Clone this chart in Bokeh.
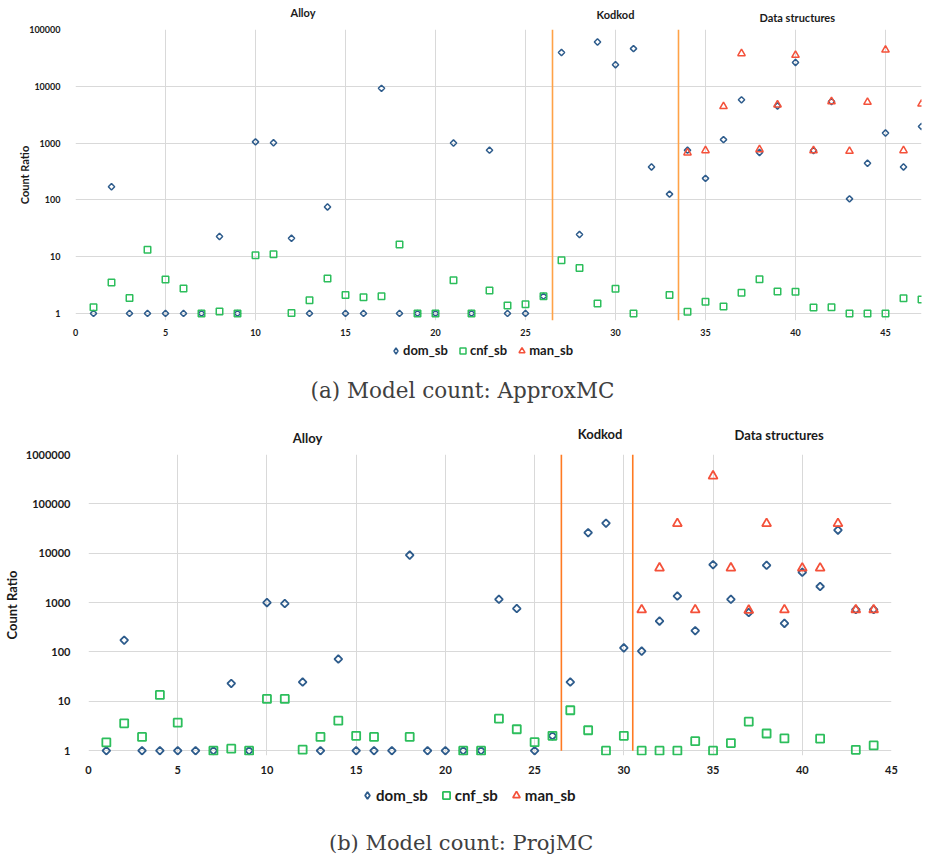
import math
from bokeh.plotting import figure
from bokeh.layouts import column
from bokeh.models import (FixedTicker, Legend, LegendItem, Label,
                          Range1d, NumeralTickFormatter)
from bokeh.embed import file_html
from bokeh.resources import INLINE

NaN = float("nan")

# ---------------- (a) Model count: ApproxMC ----------------
a_ids = list(range(1, 48))
a_dom = [1, 170, 1, 1, 1, 1, 1, 22.6, 1, 1050,
         1010, 21, 1, 75, 1, 1, 9200, 1, 1, 1,
         1000, 1, 750, 1, 1, 2, 39300, 24.5, 60300, 24000,
         46000, 380, 126, 750, 239, 1150, 5770, 684, 4500, 26300,
         740, 5390, 104, 441, 1500, 380, 1960]
a_cnf = [1.29, 3.5, 1.87, 13.2, 3.94, 2.75, 1, 1.08, 1, 10.6,
         11, 1.02, 1.7, 4.1, 2.1, 1.92, 2.0, 16.4, 1, 1,
         3.83, 1, 2.54, 1.38, 1.45, 2, 8.66, 6.3, 1.49, 2.72,
         1.0, NaN, 2.1, 1.07, 1.61, 1.32, 2.31, 3.99, 2.44, 2.4,
         1.27, 1.29, 1, 1, 1, 1.84, 1.75]
a_man_ids = list(range(34, 48))
a_man = [676, 740, 4430, 37700, 771, 4720, 35400, 740, 5390, 720,
         5260, 43800, 740, 4900]
a_groups = ["Alloy", "Kodkod", "Data structures"]
a_group_sizes = [26, 7, 14]
a_yticks = [1, 10, 100, 1000, 10000, 100000]
a_xticks = [0, 5, 10, 15, 20, 25, 30, 35, 40, 45]
a_caption = "(a) Model count: ApproxMC"

# ---------------- (b) Model count: ProjMC ----------------
b_ids = list(range(1, 45))
b_dom = [1, 173, 1, 1, 1, 1, 1, 23, 1, 1000,
         955, 24.6, 1, 72, 1, 1, 1, 9150, 1, 1,
         1, 1, 1165, 758, 1, 2, 24.6, 26100, 40600, 121,
         104, 422, 1360, 270, 5860, 1165, 630, 5690, 380, 4120,
         2120, 29400, 724, 724]
b_cnf = [1.47, 3.59, 1.9, 13.5, 3.7, NaN, 1, 1.1, 1, 11.2,
         11.2, 1.05, 1.9, 4.06, 2.0, 1.9, NaN, 1.9, NaN, NaN,
         1, 1, 4.46, 2.72, 1.49, 2, 6.6, 2.6, 1.0, 2.0,
         1, 1, 1, 1.56, 1, 1.43, 3.88, 2.23, 1.77, NaN,
         1.75, NaN, 1.04, 1.28]
b_man_ids = list(range(31, 45))
b_man = [714, 5020, 39900, 714, 367000, 5020, 700, 39900, 714, 5000,
         5000, 39900, 714, 714]
b_groups = ["Alloy", "Kodkod", "Data structures"]
b_group_sizes = [26, 4, 14]
b_yticks = [1, 10, 100, 1000, 10000, 100000, 1000000]
b_xticks = [0, 5, 10, 15, 20, 25, 30, 35, 40, 45]
b_caption = "(b) Model count: ProjMC"

series_names = ["dom_sb", "cnf_sb", "man_sb"]

DOM = "#2E5C8C"
CNF = "#2DBE5C"
MAN = "#F4513A"
FONT = "Lato"
GRID = "#D9D9D9"
TXT = "#1a1a1a"
W = 927


def add_series(p, x, y, kind, c, legend_only=False):
    if kind == 0:
        if legend_only:
            return p.scatter(x, y, marker="diamond", size=c["dsize"],
                             fill_color=None, line_color=DOM,
                             line_width=c["lw"])
        return p.scatter(x, y, marker="square", angle=math.pi / 4,
                         size=c["dsize"], fill_color=None, line_color=DOM,
                         line_width=c["lw"])
    if kind == 1:
        return p.scatter(x, y, marker="square", size=c["ssize"],
                         fill_color=None, line_color=CNF, line_width=c["lw"])
    return p.scatter(x, y, marker="triangle", size=c["tsize"],
                     fill_color=None, line_color=MAN, line_width=c["lw"])


def blank(h, xr, yr, c):
    f = figure(width=W, height=h, x_range=xr, y_range=yr,
               output_backend="svg", toolbar_location=None,
               title_location=None, min_border_left=c["bl"],
               min_border_right=c["br"], min_border_top=0,
               min_border_bottom=0, x_axis_location=None,
               y_axis_location=None)
    f.outline_line_color = None
    f.xgrid.visible = False
    f.ygrid.visible = False
    return f


def make_panel(ids, dom, cnf, man_ids, man, groups, sizes, yticks, xticks,
               caption, c):
    xr = Range1d(0, c["xend"])

    # ---- header with the group names ----
    hdr = blank(c["hh"], xr, Range1d(0, c["hh"]), c)
    for g, (gx, gy) in zip(groups, c["glab"]):
        hdr.add_layout(Label(x=gx, y=c["hh"] - gy, text=g, text_font=FONT,
                             text_font_style="bold",
                             text_font_size=c["glab_fs"], text_color=TXT,
                             text_align="center", text_baseline="middle"))

    # ---- main scatter plot ----
    p = figure(width=W, height=c["h"], y_axis_type="log", x_range=xr,
               y_range=Range1d(c["ystart"], yticks[-1]),
               output_backend="svg", toolbar_location=None,
               title_location=None,
               min_border_left=c["bl"], min_border_right=c["br"],
               min_border_top=c["bt"], min_border_bottom=c["bb"])
    p.outline_line_color = None
    p.yaxis.ticker = FixedTicker(ticks=yticks)
    p.yaxis.formatter = NumeralTickFormatter(format="0")
    p.xaxis.ticker = FixedTicker(ticks=xticks)
    for ax in (p.xaxis[0], p.yaxis[0]):
        ax.axis_line_color = None
        ax.major_tick_line_color = None
        ax.minor_tick_line_color = None
        ax.major_label_text_font = FONT
        ax.major_label_text_font_style = "bold"
        ax.major_label_text_font_size = c["tick_fs"]
        ax.major_label_text_color = TXT
    p.yaxis.major_label_standoff = c["ystand"]
    p.xaxis.major_label_standoff = c["xstand"]
    p.yaxis.axis_label = "Count Ratio"
    p.yaxis.axis_label_text_font = FONT
    p.yaxis.axis_label_text_font_style = "bold"
    p.yaxis.axis_label_text_font_size = c["axlab_fs"]
    p.yaxis.axis_label_text_color = TXT
    p.yaxis.axis_label_standoff = c["axlab_stand"]
    p.xgrid.grid_line_color = GRID
    p.ygrid.grid_line_color = GRID

    bounds = []
    acc = 0
    for s in sizes[:-1]:
        acc += s
        bounds.append(acc + 0.5)
    p.segment(x0=bounds, x1=bounds, y0=[c["sep_y0"]] * len(bounds),
              y1=[yticks[-1]] * len(bounds), line_color=c["sep_color"],
              line_width=1.6)

    xs = [ids, ids, man_ids]
    ys = [dom, cnf, man]
    for k in range(3):
        add_series(p, xs[k], ys[k], k, c)

    # ---- footer: legend + caption ----
    fw = W - c["bl"] - c["br"]
    ft = blank(c["fh"], Range1d(0, fw), Range1d(0, c["fh"]), c)
    rs = [add_series(ft, [-1000], [-1000], k, c, legend_only=True)
          for k in range(3)]
    legend = Legend(items=[LegendItem(label=n, renderers=[r])
                           for n, r in zip(series_names, rs)],
                    orientation="horizontal", location=c["leg_loc"],
                    label_text_font=FONT, label_text_font_style="bold",
                    label_text_font_size=c["leg_fs"], label_text_color=TXT,
                    glyph_width=c["gw"], glyph_height=c["gw"],
                    label_standoff=c["leg_stand"], spacing=c["leg_sp"],
                    padding=2, margin=0,
                    border_line_color=None, background_fill_alpha=0)
    ft.add_layout(legend)
    ft.add_layout(Label(x=c["cap_x"] - c["bl"], y=c["fh"] - c["cap_y"],
                        text=caption, text_font="DejaVu Serif",
                        text_font_size=c["cap_fs"], text_color="#404040",
                        text_align="center", text_baseline="middle"))
    return column(hdr, p, ft, spacing=0)


cfg_a = dict(xend=47, bl=75, br=6, hh=23, bt=6, bb=14, h=315, fh=72,
             ystart=0.75, tick_fs="9px", ystand=9, xstand=2,
             axlab_fs="11px", axlab_stand=-5, sep_color="#FFA247",
             sep_y0=0.75, dsize=4.5, ssize=6.5, tsize=7.5, lw=1.5,
             glab=[(12.64, 11.7), (30.0, 14), (40.1, 16.7)], glab_fs="11px",
             leg_loc=(313, 52), leg_fs="13px", gw=15, leg_stand=0,
             leg_sp=7, cap_x=462, cap_y=52, cap_fs="21.5px")

cfg_b = dict(xend=45, bl=83, br=36, hh=36, bt=8, bb=18, h=330, fh=83,
             ystart=0.8, tick_fs="11px", ystand=12, xstand=4,
             axlab_fs="13px", axlab_stand=3, sep_color="#FF7A22",
             sep_y0=1, dsize=5.5, ssize=8, tsize=9, lw=1.8,
             glab=[(12.27, 27), (28.67, 23), (38.7, 24)], glab_fs="13px",
             leg_loc=(270, 55), leg_fs="15px", gw=18, leg_stand=-2,
             leg_sp=9, cap_x=458, cap_y=66, cap_fs="21px")

col_a = make_panel(a_ids, a_dom, a_cnf, a_man_ids, a_man, a_groups,
                   a_group_sizes, a_yticks, a_xticks, a_caption, cfg_a)
col_b = make_panel(b_ids, b_dom, b_cnf, b_man_ids, b_man, b_groups,
                   b_group_sizes, b_yticks, b_xticks, b_caption, cfg_b)

open("out.html", "w").write(file_html([col_a, col_b], INLINE))
